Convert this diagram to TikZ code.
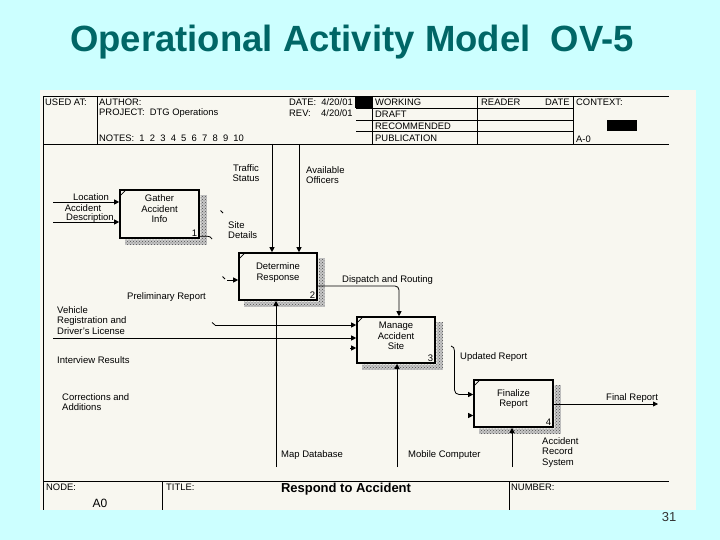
\documentclass[tikz,border=0pt]{standalone}
\usepackage{fontspec}
\setmainfont{Liberation Sans}
\usetikzlibrary{arrows.meta,patterns,calc}
\definecolor{bgcyan}{RGB}{204,255,255}
\definecolor{paper}{RGB}{248,247,240}
\definecolor{titleteal}{RGB}{0,102,102}
\begin{document}
\begin{tikzpicture}[x=1pt,y=-1pt,
  lbl/.style={font=\fontsize{9.5}{10.5}\selectfont, inner sep=0pt, align=left},
  clbl/.style={lbl, align=center},
  hdr/.style={font=\fontsize{9.4}{10}\selectfont, inner sep=0pt, anchor=west},
  actbox/.style={draw, line width=1.6pt, fill=paper, inner sep=0pt},
  flow/.style={line width=0.8pt},
  arr/.style={flow, -{Triangle[length=5pt,width=5pt]}},
  shadebase/.style={fill=black!22},
  shade/.style={pattern=crosshatch dots, pattern color=black!70},
  rule/.style={line width=0.8pt}
]
\useasboundingbox (0,0) rectangle (720,540);
\fill[bgcyan] (0,0) rectangle (720,540);
\fill[paper] (40,90) rectangle (696,510);

% title
\node[font=\fontsize{36.5}{40}\selectfont\bfseries, text=titleteal, inner sep=0pt] (title) at (352,42) {Operational Activity Model\ \ OV-5};
\node[font=\fontsize{13}{15}\selectfont, text=black!80, inner sep=0pt] (pageno) at (669,517) {31};

% frame lines
\draw[rule] (43,96) -- (669,96);
\draw[rule] (43,144) -- (669,144);
\draw[rule] (43,96) -- (43,510);
\draw[rule] (97,96) -- (97,144);
\draw[rule] (372,96) -- (372,144);
\draw[rule] (477,96) -- (477,144);
\draw[rule] (573,96) -- (573,144);
\foreach \yy in {108,120,131.5} \draw[rule] (356,\yy) -- (573,\yy);
\fill[black] (355,96) rectangle (372,108);
\fill[black] (607,120) rectangle (637,131);
\draw[rule] (43,481) -- (669,481);
\draw[rule] (162,481) -- (162,510);
\draw[rule] (509,481) -- (509,510);

% header texts
\node[hdr] (h1) at (45,102) {USED AT:};
\node[hdr] (h2) at (99,102) {AUTHOR:};
\node[hdr] (h3) at (99,113.5) {PROJECT:\ \ DTG Operations};
\node[hdr] (h4) at (99,138) {NOTES:\ \ 1\ \ 2\ \ 3\ \ 4\ \ 5\ \ 6\ \ 7\ \ 8\ \ 9\ \ 10};
\node[hdr] (h5) at (289,102) {DATE:\ \ 4/20/01};
\node[hdr] (h6) at (289,113.5) {REV:\ \ \ \ 4/20/01};
\node[hdr] (h7) at (375,102) {WORKING};
\node[hdr] (h8) at (375,114) {DRAFT};
\node[hdr] (h9) at (375,126) {RECOMMENDED};
\node[hdr] (h10) at (375,138) {PUBLICATION};
\node[hdr] (h11) at (481,102) {READER};
\node[hdr] (h12) at (545,102) {DATE};
\node[hdr] (h13) at (576,102) {CONTEXT:};
\node[hdr] (h14) at (576,139) {A-0};

% footer texts
\node[hdr] (f1) at (46,487) {NODE:};
\node[hdr] (f2) at (166,487) {TITLE:};
\node[hdr] (f3) at (511,487) {NUMBER:};
\node[font=\fontsize{12}{14}\selectfont, inner sep=0pt] (f4) at (100,503) {A0};
\node[font=\fontsize{13}{15}\selectfont\bfseries, inner sep=0pt] (f5) at (346,489) {Respond to Accident};

% activity boxes
\node[actbox, minimum width=79pt, minimum height=48pt] (b1) at (159.5,214) {};
\node[actbox, minimum width=78pt, minimum height=47pt] (b2) at (278,276.5) {};
\node[actbox, minimum width=78pt, minimum height=46pt] (b3) at (396,340) {};
\node[actbox, minimum width=79pt, minimum height=47pt] (b4) at (513.5,403.5) {};

\foreach \b in {b1,b2,b3,b4} {
  \fill[shadebase] ($(\b.north east)+(0.8,6)$) -- ($(\b.north east)+(7,6)$) -- ($(\b.south east)+(7,6)$) -- ($(\b.south west)+(6,6)$) -- ($(\b.south west)+(6,0.8)$) -- ($(\b.south east)+(0.8,0.8)$) -- cycle;
  \fill[shade] ($(\b.north east)+(0.8,6)$) -- ($(\b.north east)+(7,6)$) -- ($(\b.south east)+(7,6)$) -- ($(\b.south west)+(6,6)$) -- ($(\b.south west)+(6,0.8)$) -- ($(\b.south east)+(0.8,0.8)$) -- cycle;
  \draw[line width=0.8pt] ($(\b.north west)+(1.5,6)$) -- ++(5,-5);
}

\node[clbl] (t1) at (159.5,209) {Gather\\Accident\\Info};
\node[clbl] (t2) at (278,272.5) {Determine\\Response};
\node[clbl] (t3) at (396,336) {Manage\\Accident\\Site};
\node[clbl] (t4) at (513.5,399) {Finalize\\Report};
\node[lbl, anchor=south east] (n1) at ($(b1.south east)+(-2.5,-2)$) {1};
\node[lbl, anchor=south east] (n2) at ($(b2.south east)+(-2.5,-2)$) {2};
\node[lbl, anchor=south east] (n3) at ($(b3.south east)+(-2.5,-2)$) {3};
\node[lbl, anchor=south east] (n4) at ($(b4.south east)+(-2.5,-2)$) {4};

% connectors
\coordinate (locin) at (53,202);
\coordinate (adin) at (53,222);
\draw[arr] (locin) -- (locin -| b1.west);
\draw[arr] (adin) -- (adin -| b1.west);
\node[lbl] (l1) at (91,197) {Location};
\node[lbl] (l2) at (83,208) {Accident};
\node[lbl] (l3) at (90,218) {Description};

\coordinate (o1) at ($(b1.south east)+(0,-2.5)$);
\coordinate (o1end) at (212,239);
\draw[flow] (o1) -- ++(8,0) to[out=0,in=120] (o1end);
\coordinate (tk1a) at (220.5,210.5);
\coordinate (tk1b) at (223,213);
\draw[flow] (tk1a) -- (tk1b);
\node[lbl, anchor=west] (l4) at (228,230) {Site\\Details};

\coordinate (tk2a) at (222.5,276.5);
\coordinate (tk2b) at (225,279);
\draw[flow] (tk2a) -- (tk2b);
\coordinate (i2) at (227,280);
\draw[arr] (i2) -- (i2 -| b2.west);

\coordinate (ts) at (272,144);
\coordinate (ao) at (299,144);
\draw[arr] (ts) -- (ts |- b2.north);
\draw[arr] (ao) -- (ao |- b2.north);
\node[clbl] (l5) at (246,173) {Traffic\\Status};
\node[lbl, anchor=west] (l6) at (306,175) {Available\\Officers};

\coordinate (dr0) at ($(b2.east)+(0,9.5)$);
\coordinate (drc) at (399,286);
\draw[arr, rounded corners=4pt] (dr0) -- (drc) -- (drc |- b3.north);
\node[lbl, anchor=west] (l7) at (342,280) {Dispatch and Routing};

\node[lbl, anchor=west] (l8) at (127,297) {Preliminary Report};

\coordinate (md) at (276,467);
\draw[arr] (md) -- (md |- b2.south);
\node[lbl, anchor=west] (l9) at (281,455) {Map Database};

\coordinate (vrtk) at (212,322.5);
\coordinate (vr) at (215,325);
\draw[flow] (vrtk) -- (vr);
\draw[arr] (vr) -- (vr -| b3.west);
\coordinate (ir) at (53,338);
\draw[arr] (ir) -- (ir -| b3.west);
\coordinate (s3) at (350,348);
\draw[arr] (s3) -- (s3 -| b3.west);
\node[lbl, anchor=west] (l10) at (57,320.5) {Vehicle\\Registration and\\Driver's License};
\node[lbl, anchor=west] (l11) at (57,360) {Interview Results};
\node[lbl, anchor=west] (l12) at (62,402) {Corrections and\\Additions};

\coordinate (mc) at (397,467);
\draw[arr] (mc) -- (mc |- b3.south);
\node[lbl, anchor=west] (l13) at (408,455) {Mobile Computer};

\coordinate (ur0) at (451,346);
\coordinate (ur1) at (454.5,351);
\coordinate (ur2) at (454.5,390);
\coordinate (ur3) at (459,394.5);
\draw[flow] (ur0) to[out=0,in=90] (ur1) -- (ur2) to[out=-90,in=180] (ur3);
\draw[arr] (ur3) -- (ur3 -| b4.west);
\node[lbl, anchor=west] (l14) at (460,357) {Updated Report};

\coordinate (s4) at (468,415.5);
\draw[arr] (s4) -- (s4 -| b4.west);

\coordinate (fr) at ($(b4.east)+(0,0.5)$);
\coordinate (frend) at (658,404);
\draw[arr] (fr) -- (frend);
\node[lbl, anchor=west] (l15) at (606,398) {Final Report};

\coordinate (ars) at (512,467);
\draw[arr] (ars) -- (ars |- b4.south);
\node[lbl, anchor=west] (l16) at (542,452.5) {Accident\\Record\\System};
\end{tikzpicture}
\end{document}
